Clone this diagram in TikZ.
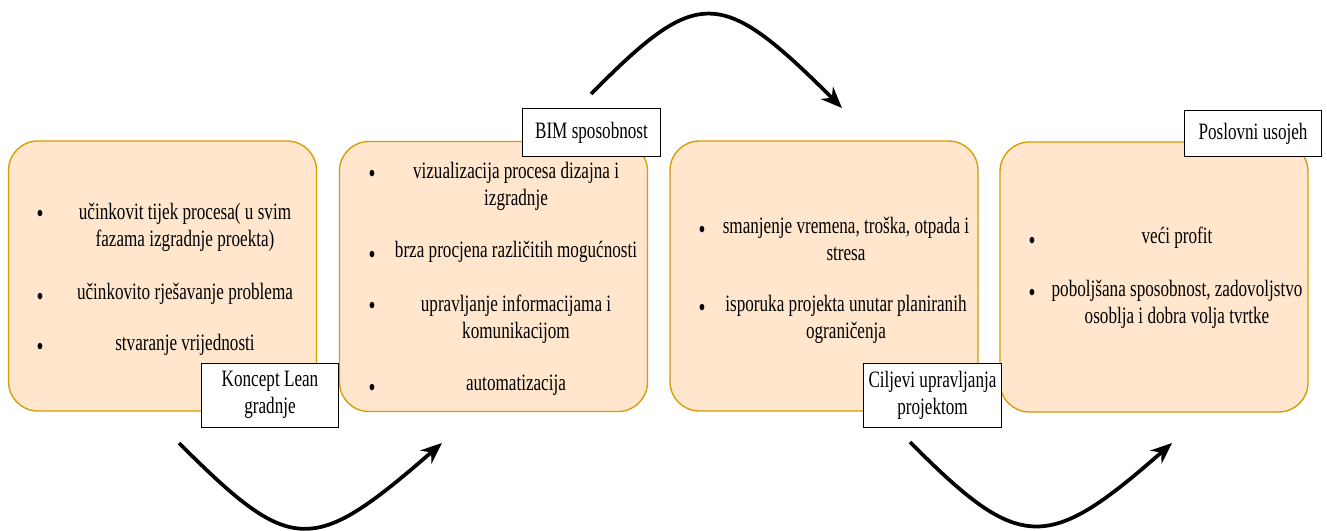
\documentclass[tikz,border=0pt]{standalone}
\usepackage{fontspec}
\setmainfont{Liberation Serif}[FakeStretch=0.73]
\usetikzlibrary{arrows.meta}

\definecolor{stagefill}{HTML}{FFE6CC}
\definecolor{stageline}{HTML}{D79B00}

\tikzset{
    stage/.style={draw=stageline, fill=stagefill, line width=1pt,
        rounded corners=22pt, minimum width=231pt, minimum height=202.5pt},
    tag/.style={draw, fill=white, line width=0.75pt, align=center,
        inner sep=2pt, minimum width=103pt, minimum height=36pt},
    itm/.style={align=center, inner sep=0pt},
    dot/.style={inner sep=0pt, scale=1.15},
    swoop/.style={line width=2.8pt, -{Stealth[length=16pt, width=13pt]}}
}

\newcommand{\sn}{\node[stage]}
\newcommand{\tn}{\node[tag]}
\newcommand{\itn}{\node[itm]}
\newcommand{\dn}{\node[dot]}

\begin{document}
\begin{tikzpicture}[x=0.75pt, y=-0.75pt, font=\fontsize{17.6}{20.25}\selectfont]
            \useasboundingbox (0,0) rectangle (1327,531);

            \sn (s1) at (162.5, 276) {};
            \sn (s2) at (493.5, 276.5) {};
            \sn (s3) at (824, 276) {};
            \sn (s4) at (1154, 277) {};

            \dn (d11) at (40, 216) {\textbullet};
            \itn (t11) at (185, 227.5) {učinkovit tijek procesa( u svim\\fazama izgradnje proekta)};
            \dn (d12) at (40, 299) {\textbullet};
            \itn (t12) at (185, 294) {učinkovito rješavanje problema};
            \dn (d13) at (40, 349) {\textbullet};
            \itn (t13) at (185, 345) {stvaranje vrijednosti};

            \dn (d21) at (372, 176) {\textbullet};
            \itn (t21) at (516, 186) {vizualizacija procesa dizajna i\\izgradnje};
            \dn (d22) at (372, 257) {\textbullet};
            \itn (t22) at (516, 252) {brza procjena različitih mogućnosti};
            \dn (d23) at (372, 308) {\textbullet};
            \itn (t23) at (516, 319) {upravljanje informacijama i\\komunikacijom};
            \dn (d24) at (372, 390) {\textbullet};
            \itn (t24) at (516, 385) {automatizacija};

            \dn (d31) at (702, 232) {\textbullet};
            \itn (t31) at (846, 238.5) {smanjenje vremena, troška, otpada i\\stresa};
            \dn (d32) at (702, 310) {\textbullet};
            \itn (t32) at (846, 319.5) {isporuka projekta unutar planiranih\\ograničenja};

            \dn (d41) at (1032, 243) {\textbullet};
            \itn (t41) at (1177, 238) {veći profit};
            \dn (d42) at (1032, 295) {\textbullet};
            \itn (t42) at (1177, 304) {poboljšana sposobnost, zadovoljstvo\\osoblja i dobra volja tvrtke};

            \tn[minimum height=48pt] (l1) at (270, 395) {Koncept Lean\\gradnje};
            \tn (l2) at (591.5, 133) {BIM sposobnost};
            \tn[minimum height=48pt] (l3) at (932.5, 395) {Ciljevi upravljanja\\projektom};
            \tn[minimum height=34.5pt] (l4) at (1253, 134) {Poslovni usojeh};

            \coordinate (a1) at (179, 443);
            \coordinate (b1) at (442, 443);
            \coordinate (a2) at (591, 94);
            \coordinate (b2) at (842, 108);
            \coordinate (a3) at (910, 442);
            \coordinate (b3) at (1172, 443);

            \draw[swoop] (a1) .. controls (292, 556) and (312, 556) .. (b1);
            \draw[swoop] (a2) .. controls (698, -14) and (720, -14) .. (b2);
            \draw[swoop] (a3) .. controls (1020, 553) and (1047, 553) .. (b3);

        \end{tikzpicture}
\end{document}
